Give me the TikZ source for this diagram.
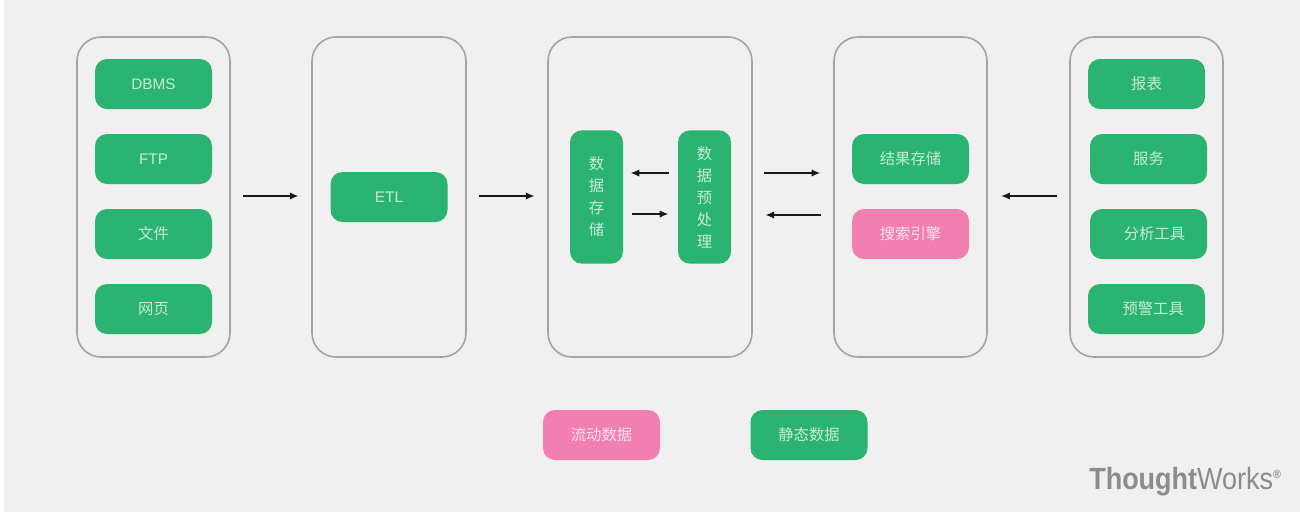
\documentclass[tikz,border=0pt]{standalone}
\usepackage{fontspec}
\setmainfont{Liberation Sans}
\newfontfamily\cjk{Noto Sans CJK SC}
\usetikzlibrary{arrows.meta}
\definecolor{bggrey}{HTML}{F0F0F0}
\definecolor{tgreen}{HTML}{2BB372}
\definecolor{tpink}{HTML}{F17FB0}
\definecolor{frameg}{HTML}{A2A4A6}
\definecolor{labg}{HTML}{C8EBD9}
\definecolor{labp}{HTML}{FBE3ED}
\definecolor{logog}{HTML}{8A8C8E}
\tikzset{
  x=0.75pt,y=-0.75pt,
  frame/.style={draw=frameg,line width=1.2pt,rounded corners=18pt,inner sep=0pt,minimum height=240pt},
  chip/.style={fill=tgreen,rounded corners=9pt,inner sep=0pt,minimum width=87.75pt,minimum height=37.5pt,text=labg,font=\fontsize{11.5}{14}\selectfont},
  chipz/.style={chip,font=\cjk\fontsize{11.5}{14}\selectfont},
  pinkchip/.style={chipz,fill=tpink,text=labp},
  tall/.style={fill=tgreen,rounded corners=9pt,inner sep=0pt,minimum width=39.75pt,minimum height=100pt,text=labg,align=center,font=\cjk\fontsize{11.5}{16.5}\selectfont},
  arr/.style={draw=black!90,line width=1.05pt,-{Latex[length=6.5pt,width=5.5pt]}},
}
\begin{document}
\begin{tikzpicture}
\useasboundingbox (0,0) rectangle (1300,512);
\fill[bggrey] (4,0) rectangle (1300,512);
% frames
\node[frame,minimum width=114.75pt] (f1) at (153.5,197) {};
\node[frame,minimum width=115.5pt] (f2) at (389,197) {};
\node[frame,minimum width=153pt] (f3) at (650,197) {};
\node[frame,minimum width=114.75pt] (f4) at (910.5,197) {};
\node[frame,minimum width=114.75pt] (f5) at (1146.5,197) {};
% column 1
\node[chip] (dbms) at (153.5,84) {DBMS};
\node[chip] (ftp) at (153.5,159) {FTP};
\node[chipz] (file) at (153.5,234) {文件};
\node[chipz] (web) at (153.5,309) {网页};
% column 2
\node[chip] (etl) at (389,197) {ETL};
% column 3
\node[tall] (store) at (596.5,197) {数\\据\\存\\储};
\node[tall] (pre) at (704.5,197) {数\\据\\预\\处\\理};
% column 4
\node[chipz] (res) at (910.5,159) {结果存储};
\node[pinkchip] (search) at (910.5,234) {搜索引擎};
% column 5
\node[chipz] (rep) at (1146.5,84) {报表};
\node[chipz] (svc) at (1148.5,159) {服务};
\node[chipz] (ana) at (1148.5,234) {\hspace*{9pt}分析工具};
\node[chipz] (warn) at (1146.5,309) {\hspace*{10pt}预警工具};
% legend
\node[pinkchip] (flow) at (601.5,435) {流动数据};
\node[chipz] (static) at (809,435) {静态数据};
% rows
\coordinate (ya) at (0,173);
\coordinate (yb) at (0,214);
\coordinate (yc) at (0,215);
\coordinate (yd) at (0,196);
% connectors
\draw[arr,shorten <=9pt,shorten >=9.5pt] (f1.east |- yd) -- (f2.west |- yd);
\draw[arr,shorten <=9.5pt,shorten >=9.5pt] (f2.east |- yd) -- (f3.west |- yd);
\draw[arr,shorten <=6.75pt,shorten >=5.5pt] (pre.west |- ya) -- (store.east |- ya);
\draw[arr,shorten <=6.75pt,shorten >=7pt] (store.east |- yb) -- (pre.west |- yb);
\draw[arr,shorten <=8.5pt,shorten >=9.75pt] (f3.east |- ya) -- (f4.west |- ya);
\draw[arr,shorten <=9.5pt,shorten >=9.5pt] (f4.west |- yc) -- (f3.east |- yc);
\draw[arr,shorten <=9.5pt,shorten >=10pt] (f5.west |- yd) -- (f4.east |- yd);
% logo
\node[anchor=base west,inner sep=0pt,text=logog,font=\fontsize{23}{26}\selectfont] (logo) at (1089,489) {\scalebox{0.88}[1]{\textbf{Thought}Works\raisebox{8pt}{\fontsize{9}{9}\selectfont\textbf{®}}}};
\end{tikzpicture}
\end{document}
